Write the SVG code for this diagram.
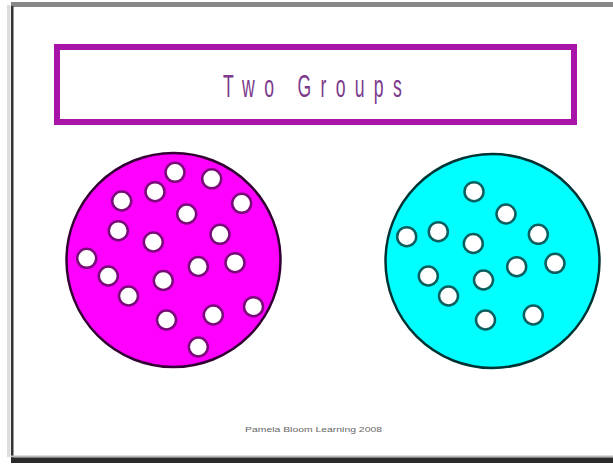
<svg xmlns="http://www.w3.org/2000/svg" width="613" height="465" viewBox="0 0 613 465">
<style>
.dm{fill:#ffffff;stroke:#7a0a7a;stroke-width:2.5}
.dc{fill:#ffffff;stroke:#0b5f5f;stroke-width:2.5}
.title{font-family:"Liberation Sans Narrow","Liberation Sans",Arial,sans-serif;font-size:32px;fill:#7b3a8c}
.foot{font-family:"Liberation Sans",Arial,sans-serif;font-size:6.5px;fill:#666}
</style>
<rect x="0" y="0" width="613" height="465" fill="#ffffff"/>
<g id="frame">
<rect x="7" y="5" width="3.5" height="452" fill="#dddddd"/>
<rect x="11" y="2" width="602" height="5" fill="#888888"/>
<rect x="11" y="6" width="2.5" height="457" fill="#333333"/>
<rect x="11" y="455.5" width="602" height="2" fill="#bbbbbb"/>
<rect x="11" y="457.5" width="602" height="5.5" fill="#2a2a2a"/>
</g>
<g id="title">
<rect x="57" y="47" width="517" height="75" fill="#ffffff" stroke="#a814a8" stroke-width="6"/>
<text class="title" transform="translate(223,97) scale(0.55,1)" textLength="325" lengthAdjust="spacing">Two Groups</text>
</g>
<g id="group-magenta">
<circle cx="173.5" cy="260" r="107" fill="#ff00ff" stroke="#330033" stroke-width="2.5"/>
<circle class="dm" cx="175" cy="172.3" r="9.5"/>
<circle class="dm" cx="211.7" cy="178.8" r="9.5"/>
<circle class="dm" cx="155" cy="191.7" r="9.5"/>
<circle class="dm" cx="121.7" cy="201" r="9.5"/>
<circle class="dm" cx="241.7" cy="203.3" r="9.5"/>
<circle class="dm" cx="186.7" cy="214" r="9.5"/>
<circle class="dm" cx="118.3" cy="230.7" r="9.5"/>
<circle class="dm" cx="220" cy="234.3" r="9.5"/>
<circle class="dm" cx="153.3" cy="242" r="9.5"/>
<circle class="dm" cx="86.7" cy="258.3" r="9.5"/>
<circle class="dm" cx="235" cy="262.7" r="9.5"/>
<circle class="dm" cx="198.3" cy="266.5" r="9.5"/>
<circle class="dm" cx="108.3" cy="276" r="9.5"/>
<circle class="dm" cx="163.3" cy="280.5" r="9.5"/>
<circle class="dm" cx="128.5" cy="296" r="9.5"/>
<circle class="dm" cx="253.5" cy="306.7" r="9.5"/>
<circle class="dm" cx="213.3" cy="315" r="9.5"/>
<circle class="dm" cx="166.5" cy="320" r="9.5"/>
<circle class="dm" cx="198.3" cy="347" r="9.5"/>
</g>
<g id="group-cyan">
<circle cx="492.5" cy="261" r="107" fill="#00ffff" stroke="#003333" stroke-width="2.5"/>
<circle class="dc" cx="474" cy="191.7" r="9.5"/>
<circle class="dc" cx="506" cy="214" r="9.5"/>
<circle class="dc" cx="406.7" cy="236.7" r="9.5"/>
<circle class="dc" cx="438.3" cy="231.7" r="9.5"/>
<circle class="dc" cx="473.3" cy="243.5" r="9.5"/>
<circle class="dc" cx="538.3" cy="234.3" r="9.5"/>
<circle class="dc" cx="555" cy="263.3" r="9.5"/>
<circle class="dc" cx="516.7" cy="266.7" r="9.5"/>
<circle class="dc" cx="428.3" cy="276" r="9.5"/>
<circle class="dc" cx="483.5" cy="280" r="9.5"/>
<circle class="dc" cx="448.5" cy="296" r="9.5"/>
<circle class="dc" cx="533.3" cy="315" r="9.5"/>
<circle class="dc" cx="485.5" cy="320" r="9.5"/>
</g>
<g id="footer">
<text class="foot" x="245" y="432" textLength="137" lengthAdjust="spacingAndGlyphs">Pamela Bloom Learning 2008</text>
</g>
</svg>
